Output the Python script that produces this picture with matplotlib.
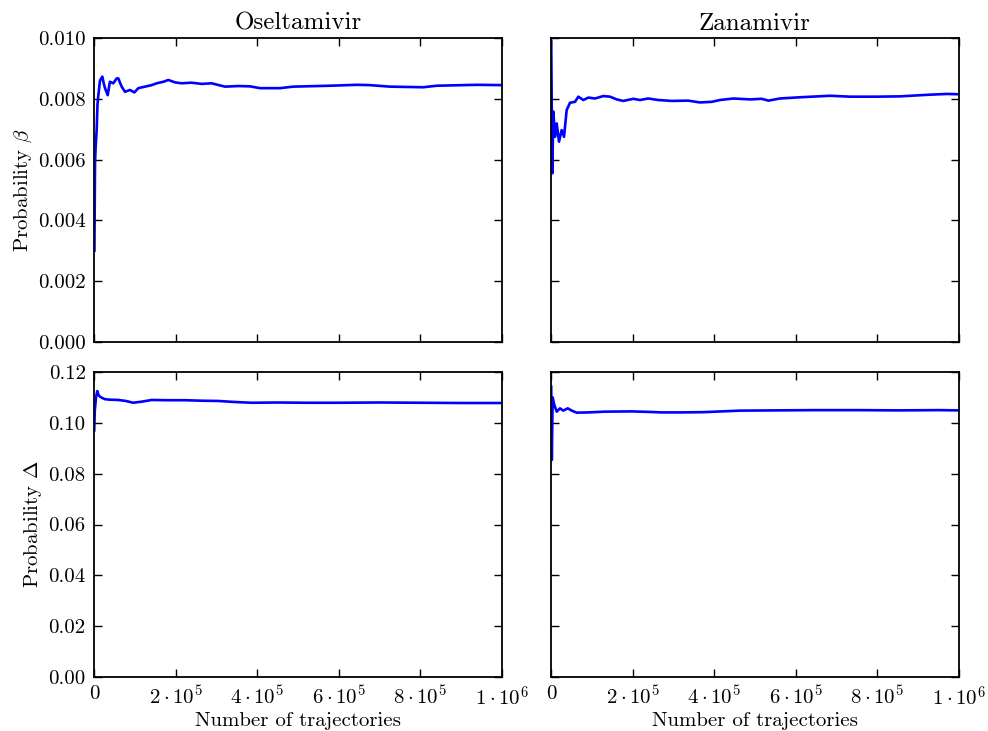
import matplotlib
matplotlib.use("Agg")
import matplotlib.pyplot as plt
from matplotlib.ticker import FixedLocator, FixedFormatter, FormatStrFormatter

plt.rcParams["font.family"] = ["cmr10", "DejaVu Serif"]
plt.rcParams["mathtext.fontset"] = "cm"
plt.rcParams["axes.formatter.use_mathtext"] = True
plt.rcParams["axes.unicode_minus"] = False

# Running estimates versus number of simulated trajectories
drugs = ["Oseltamivir", "Zanamivir"]

# Oseltamivir, probability beta
osel_beta_n = [1000, 2500, 4000, 6600, 8500, 10500, 14700, 20400, 24000, 27000, 33500,
               39000, 47400, 55500, 59600, 67800, 76000, 88000, 98800, 108600, 125000,
               141400, 153600, 170000, 182100, 198500, 215000, 239000, 264000, 288000,
               321000, 354000, 382000, 407000, 456000, 488000, 578000, 644000, 676000,
               725000, 807000, 840000, 938000, 1000000]
osel_beta_p = [0.0030, 0.0059, 0.0064, 0.0070, 0.0078, 0.0081, 0.0086, 0.00873, 0.0085,
               0.00835, 0.00812, 0.00856, 0.00851, 0.00867, 0.00867, 0.0084, 0.00823,
               0.00829, 0.00821, 0.00835, 0.0084, 0.00845, 0.00851, 0.00856, 0.00862,
               0.00854, 0.00851, 0.00853, 0.00849, 0.00851, 0.0084, 0.00842, 0.00841,
               0.00835, 0.00835, 0.0084, 0.00843, 0.00846, 0.00845, 0.0084, 0.00838,
               0.00843, 0.00846, 0.00845]

# Zanamivir, probability beta
zana_beta_n = [500, 3200, 5700, 9800, 14000, 19600, 26100, 31900, 38400, 46600, 58800,
               67000, 79200, 91500, 108000, 128000, 144600, 161000, 177000, 202000,
               218000, 238000, 263000, 296000, 336000, 365000, 394000, 414000, 447000,
               488000, 516000, 533000, 561000, 610000, 684000, 733000, 798000, 855000,
               921000, 970000, 1000000]
zana_beta_p = [0.0099, 0.00555, 0.00758, 0.00675, 0.00719, 0.00659, 0.00697, 0.00675,
               0.00763, 0.00787, 0.0079, 0.00807, 0.00796, 0.00804, 0.00801, 0.00809,
               0.00807, 0.00798, 0.00793, 0.008, 0.00796, 0.00801, 0.00796, 0.00793,
               0.00794, 0.00788, 0.0079, 0.00796, 0.00801, 0.00798, 0.008, 0.00794,
               0.00801, 0.00805, 0.0081, 0.00807, 0.00807, 0.00808, 0.00813, 0.00816,
               0.00815]

# Oseltamivir, probability Delta
osel_delta_n = [500, 2000, 5000, 8000, 11000, 14700, 20000, 27000, 40000, 59600, 78000,
                96300, 120000, 141000, 180000, 223000, 265000, 305000, 345000, 386000,
                450000, 520000, 600000, 700000, 800000, 900000, 1000000]
osel_delta_p = [0.0970, 0.1050, 0.1100, 0.1125, 0.1110, 0.1103, 0.1098, 0.1093, 0.1091,
                0.1090, 0.1086, 0.1079, 0.1084, 0.1090, 0.1089, 0.1089, 0.1087, 0.1086,
                0.1082, 0.1079, 0.1080, 0.1079, 0.1079, 0.1080, 0.1079, 0.1078, 0.1078]

# Zanamivir, probability Delta
zana_delta_n = [500, 2000, 4000, 8200, 14000, 22000, 30000, 41000, 51000, 63000, 91500,
                132000, 198000, 240000, 271000, 320000, 373000, 463000, 550000, 650000,
                750000, 850000, 950000, 1000000]
zana_delta_p = [0.1142, 0.0854, 0.1100, 0.1070, 0.1044, 0.1057, 0.1048, 0.1057, 0.1048,
                0.1040, 0.1041, 0.1044, 0.1045, 0.1043, 0.1041, 0.1041, 0.1042, 0.1048,
                0.1049, 0.1050, 0.1050, 0.1049, 0.1050, 0.1049]

x_ticks = [0, 200000, 400000, 600000, 800000, 1000000]
x_tick_labels = ["0", r"$2\cdot10^5$", r"$4\cdot10^5$", r"$6\cdot10^5$",
                 r"$8\cdot10^5$", r"$1\cdot10^6$"]
beta_ticks = [0.000, 0.002, 0.004, 0.006, 0.008, 0.010]
delta_ticks = [0.00, 0.02, 0.04, 0.06, 0.08, 0.10, 0.12]

W, H = 988, 731
fig = plt.figure(figsize=(W / 100, H / 100), dpi=100)


def make_axes(left, top, right, bottom):
    return fig.add_axes([left / W, 1 - bottom / H, (right - left) / W, (bottom - top) / H])


ax_tl = make_axes(94, 38, 502, 342)
ax_tr = make_axes(551, 38, 959, 342)
ax_bl = make_axes(94, 372, 502, 677)
ax_br = make_axes(551, 372, 959, 677)

panels = [
    (ax_tl, osel_beta_n, osel_beta_p, beta_ticks, "%.3f"),
    (ax_tr, zana_beta_n, zana_beta_p, beta_ticks, "%.3f"),
    (ax_bl, osel_delta_n, osel_delta_p, delta_ticks, "%.2f"),
    (ax_br, zana_delta_n, zana_delta_p, delta_ticks, "%.2f"),
]

for ax, n, p, yt, fmt in panels:
    ax.plot(n, p, color="#0000ff", lw=1.9, solid_joinstyle="round")
    ax.set_xlim(0, 1000000)
    ax.set_ylim(yt[0], yt[-1])
    ax.yaxis.set_major_locator(FixedLocator(yt))
    ax.yaxis.set_major_formatter(FormatStrFormatter(fmt))
    ax.xaxis.set_major_locator(FixedLocator(x_ticks))
    ax.xaxis.set_major_formatter(FixedFormatter(x_tick_labels))
    ax.tick_params(direction="in", top=True, right=True, length=6, width=1,
                   labelsize=15, pad=6)
    for s in ax.spines.values():
        s.set_linewidth(1.3)

for ax in (ax_tl, ax_tr):
    ax.tick_params(labelbottom=False)
for ax in (ax_tr, ax_br):
    ax.tick_params(labelleft=False)

ax_tl.set_title(drugs[0], fontsize=18, pad=6)
ax_tr.set_title(drugs[1], fontsize=18, pad=6)
ax_tl.set_ylabel(r"Probability $\beta$", fontsize=15, labelpad=3)
ax_bl.set_ylabel(r"Probability $\Delta$", fontsize=15, labelpad=3)
ax_bl.set_xlabel("Number of trajectories", fontsize=15, labelpad=2)
ax_br.set_xlabel("Number of trajectories", fontsize=15, labelpad=2)

fig.savefig("out.png", dpi=100)
